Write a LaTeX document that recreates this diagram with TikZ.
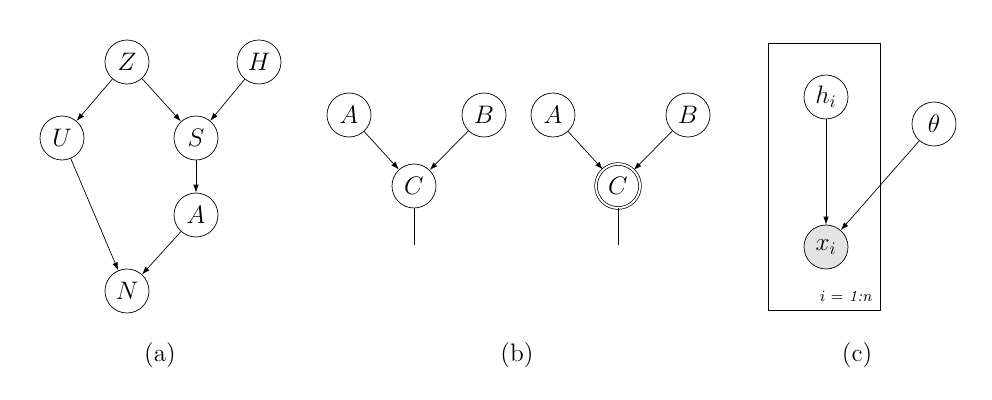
\documentclass[tikz,border=0pt]{standalone}
\usepackage{amsmath}
\usepackage{amssymb}
\usetikzlibrary{arrows.meta, calc, positioning}

\tikzset{
  varnode/.style={circle, draw, thin, minimum size=0.88cm, inner sep=0pt, font=\Large},
  obsnode/.style={varnode, fill=gray!22},
  detnode/.style={varnode, double, double distance=1.1pt},
  edge/.style={-{Latex[length=1.6mm,width=1.1mm]}, thin},
  caption/.style={font=\Large}
}

\begin{document}
\begin{tikzpicture}
    \useasboundingbox (0,0) rectangle (19.84,-8);

	% (a) network
    \node[varnode] (Z) at (2.54,-1.24) {$Z$};
    \node[varnode] (H) at (5.18,-1.24) {$H$};
    \node[varnode] (U) at (1.24,-2.76) {$U$};
    \node[varnode] (S) at (3.92,-2.76) {$S$};
    \node[varnode] (A) at (3.92,-4.30) {$A$};
    \node[varnode] (N) at (2.54,-5.82) {$N$};
    \draw[edge] (Z) -- (U);
    \draw[edge] (Z) -- (S);
    \draw[edge] (H) -- (S);
    \draw[edge] (S) -- (A);
    \draw[edge] (U) -- (N);
    \draw[edge] (A) -- (N);
    \node[caption] (capa) at (3.20,-7.10) {(a)};

	% (b) chance node and deterministic node
    \node[varnode] (A1) at (6.98,-2.30) {$A$};
    \node[varnode] (B1) at (9.68,-2.30) {$B$};
    \node[varnode] (C1) at (8.28,-3.72) {$C$};
    \coordinate (c1end) at (8.28,-4.90);
    \draw[edge] (A1) -- (C1);
    \draw[edge] (B1) -- (C1);
    \draw[thin] (C1) -- (c1end);

    \node[varnode] (A2) at (11.06,-2.30) {$A$};
    \node[varnode] (B2) at (13.76,-2.30) {$B$};
    \node[detnode] (C2) at (12.36,-3.72) {$C$};
    \coordinate (c2end) at (12.36,-4.90);
    \draw[edge] (A2) -- (C2);
    \draw[edge] (B2) -- (C2);
    \draw[thin] (C2) -- (c2end);
    \node[caption] (capb) at (10.34,-7.10) {(b)};

	% (c) plate model
    \draw[thin] (15.36,-0.86) rectangle (17.60,-6.20);
    \node[varnode] (h) at (16.52,-1.94) {$h_i$};
    \node[varnode] (theta) at (18.68,-2.48) {$\theta$};
    \node[obsnode] (x) at (16.52,-4.94) {$x_i$};
    \draw[edge] (h) -- (x);
    \draw[edge] (theta) -- (x);
    \node[anchor=south east, font=\small] (plate) at (17.56,-6.16) {$i$ = \textit{1:n}};
    \node[caption] (capc) at (17.14,-7.10) {(c)};
\end{tikzpicture}
\end{document}
